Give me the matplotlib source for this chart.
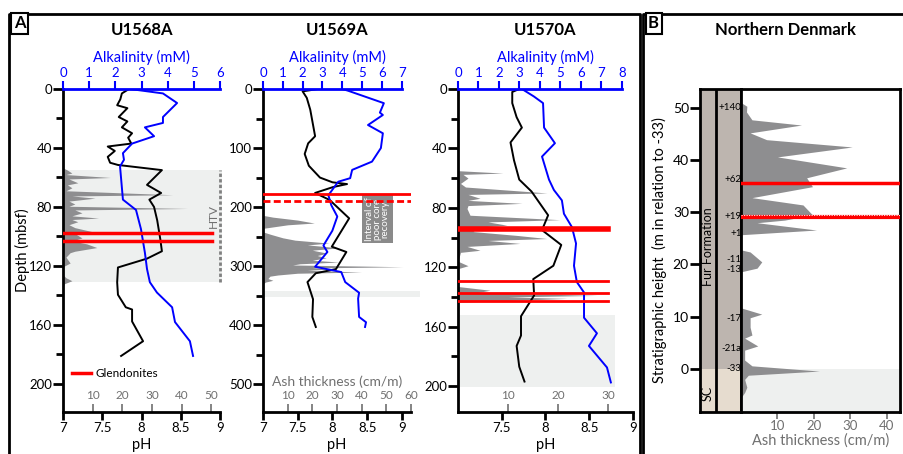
import numpy as np
import matplotlib.pyplot as plt
from matplotlib.lines import Line2D

plt.rcParams['font.family'] = ['Lato', 'DejaVu Sans']

W, H = 904, 454
ASH_GREY = '#8e8e90'
BAND = '#eef0ef'
TICK_GREY = '#707070'
FUR = '#bdb5af'
SC = '#e6dccf'

# ---- U1568A ----
u68_ph_depth = [0, 3, 7, 11, 13, 19, 22, 26, 30, 33, 37, 39, 42, 46, 50, 51.5, 55, 65, 70.5, 75, 80,
                89, 102, 110, 115, 121, 131, 139.5, 148, 149.5, 157.6, 171, 181]
u68_ph = [7.84, 7.75, 7.73, 7.69, 7.82, 7.71, 7.82, 7.75, 7.88, 7.83, 7.87, 7.57, 7.66, 7.57, 7.60, 7.70,
          8.26, 8.07, 8.25, 8.10, 8.16, 8.20, 8.24, 8.26, 8.07, 7.70, 7.69, 7.70, 7.80, 7.88, 7.88, 8.02, 7.74]
u68_alk_depth = [0, 3, 9.5, 19, 23, 26, 32, 37, 43.5, 48, 52.5, 75, 82, 95, 111, 122, 131, 138, 148,
                 158, 171, 181]
u68_alk = [2.56, 3.82, 4.36, 3.82, 3.82, 3.13, 3.48, 2.64, 2.29, 2.33, 2.18, 2.29, 2.79, 2.98, 3.13,
           3.21, 3.32, 3.59, 4.17, 4.28, 4.85, 4.97]
u68_ash_depth = [53.5, 55, 57, 58, 60, 61, 63.6, 65, 67, 69, 71.7, 72.5, 74, 76, 78, 79.5, 81, 82, 84,
                 86, 87.5, 88.5, 90, 92, 94, 96.7, 98, 101, 103, 105, 107.5, 110, 111, 114, 118, 120.5,
                 126, 128, 130, 132, 135]
u68_ash = [0, 1.5, 3, 1, 16, 2, 5, 1.5, 3, 1, 37, 3, 10.8, 2, 4, 2, 42, 4, 6.4, 3, 12, 3, 5, 2, 4, 9.8,
           4, 6.4, 3, 8, 11.4, 4, 2.4, 1, 2.4, 0, 0, 1, 3, 0.5, 0]
u68_glendonites = [97.5, 103]
u68_htv = (55, 131)

# ---- U1569A ----
u69_ph_depth = [0, 4, 15, 35, 80, 92, 110, 130, 150, 158, 161, 166, 176, 188, 219, 267, 276, 305, 312,
                327, 356, 386, 403]
u69_ph = [7.79, 7.57, 7.63, 7.68, 7.75, 7.65, 7.60, 7.66, 7.82, 8.00, 8.21, 8.01, 7.75, 7.96, 8.24,
          7.99, 8.20, 8.05, 7.76, 7.64, 7.72, 7.71, 7.76]
u69_alk_depth = [0, 3, 24, 40, 44, 61, 75, 100, 123, 137, 151, 157, 166, 180, 197, 216, 240, 265, 276,
                 301, 310, 327, 345, 355, 386, 395, 403]
u69_alk = [4.0, 4.3, 6.1, 5.9, 6.05, 5.3, 6.05, 5.95, 5.5, 4.5, 4.4, 3.8, 3.6, 3.3, 3.45, 3.75, 3.5,
           3.05, 3.25, 2.63, 3.95, 4.15, 4.85, 4.8, 4.85, 5.2, 5.15]
u69_ash_depth = [214, 217, 222, 227, 230, 236, 242, 246, 252, 256, 261, 264, 269, 273, 278, 282, 286,
                 290, 293, 296, 298, 301, 303, 305, 307, 310, 312, 315, 317, 321, 324, 327, 330]
u69_ash = [0, 4, 14, 20.8, 10, 0, 0, 3, 8, 13, 26.8, 18, 30.8, 20, 26, 22, 25.6, 20, 30.8, 15, 12, 56.8,
           20, 26.8, 18, 40, 14, 6, 2.8, 2, 4, 1, 0]
u69_glendonite = 178
u69_glendonite_dashed = 190
u69_poor_recovery = (180, 261)
u69_band = (342, 352)

# ---- U1570A ----
u70_ph_depth = [0, 2, 9.5, 19, 26, 36, 48, 61, 69, 85, 95, 105, 119, 128, 139, 153, 166, 173, 187, 197]
u70_ph = [7.70, 7.62, 7.62, 7.67, 7.73, 7.60, 7.64, 7.70, 7.84, 8.03, 7.96, 8.18, 8.09, 7.86, 7.87,
          7.72, 7.72, 7.67, 7.70, 7.76]
u70_alk_depth = [0, 5, 9.5, 26, 36.5, 45.5, 61, 68, 75, 84, 93, 104, 119, 130, 137, 154, 164.5, 173,
                 187.5, 197.6]
u70_alk = [3.12, 3.7, 4.15, 4.2, 4.73, 4.1, 4.44, 4.68, 5.07, 5.17, 5.56, 5.76, 5.66, 5.8, 6.15, 6.15,
           6.78, 6.39, 7.27, 7.46]
u70_ash_depth = [55, 56.6, 57.5, 60, 63.6, 66, 70, 71, 73.6, 75, 77, 78.5, 80.5, 85, 88, 89.5, 91.7, 93,
                 96, 98.6, 100.7, 102, 104, 106, 108.6, 110, 116, 119, 121, 133, 135.5, 137, 139, 140,
                 141, 143.6]
u70_ash = [0, 9, 1, 2, 0.5, 1.5, 17.8, 2, 4.4, 2, 12.8, 2, 1.8, 2.4, 20.4, 6, 9.8, 4, 3, 11.8, 17.8, 6,
           12.4, 1.8, 4.4, 0.5, 0, 2, 0, 0, 6.4, 4, 27.8, 10, 21.8, 0]
u70_glendonite_thick = 94.4
u70_glendonites = [129.5, 137.7, 142.5]
u70_band = (152.5, 201)

# ---- Northern Denmark ----
dk_height = [51, 50.3, 49.2, 47.7, 46.7, 45.2, 43.9, 42.5, 40.6, 38.5, 36.6, 34.9, 32.8, 31.4, 29.5,
             28.5, 28, 26.6, 25.7, 22.8, 22.4, 20.5, 19.3, 18.6, 11.7, 10.5, 9.8, 8.0, 6.5, 5.9, 4.4,
             3.6, 1.7, 0.6, -0.4, -1.2, -2, -3.5, -4.5, -5.5]
dk_ash = [0, 1.6, 1.5, 3, 16.6, 2.5, 7, 30.5, 10, 29, 18, 19.6, 3, 17, 19.6, 12, 4.4, 20.7, 0, 0, 2.5,
          5.7, 4.4, 0, 0, 5.7, 2.5, 2.5, 3, 1, 4.6, 1, 1, 3, 21.5, 2, 1, 1.6, 1, 0]
dk_ash_labels = ['+140', '+62', '+19', '+1', '-11', '-13', '-17', '-21a', '-33']
dk_ash_label_height = [50, 36.2, 29.1, 26, 21, 19, 9.6, 4, 0]
dk_glendonite = 35.6
dk_glendonite_dashed = 29.0


def px_axes(fig, x0, y0, x1, y1):
    return fig.add_axes([x0 / W, 1 - y1 / H, (x1 - x0) / W, (y1 - y0) / H])


def station(fig, box, name, dmax, dmajor, dminor, phmax, alkmax, alkn, ashmax, ashticks,
            ph_d, ph, alk_d, alk, ash_d, ash):
    ax = px_axes(fig, *box)
    ax.set_xlim(0, ashmax)
    ax.set_ylim(dmax, 0)
    ax.fill_betweenx(ash_d, 0, ash, color=ASH_GREY, lw=0, zorder=1)
    ax.set_xticks(ashticks)
    ax.tick_params(axis='x', direction='in', length=6, width=1.2, color=TICK_GREY,
                   labelcolor=TICK_GREY, labelsize=8.5, pad=-15.5)
    ax.set_yticks(dmajor)
    ax.set_yticks(dminor, minor=True)
    ax.tick_params(axis='y', which='major', length=7, width=2, labelsize=9.5, pad=1)
    ax.tick_params(axis='y', which='minor', length=5, width=2)
    for s in ['top', 'right', 'bottom']:
        ax.spines[s].set_visible(False)
    ax.spines['left'].set_linewidth(2)
    ax.patch.set_alpha(0)

    axp = ax.twiny()
    axp.set_xlim(7, phmax)
    axp.xaxis.set_ticks_position('bottom')
    axp.xaxis.set_label_position('bottom')
    axp.set_xticks([7, 7.5, 8, 8.5, 9])
    axp.set_xticklabels(['7', '7.5', '8', '8.5', '9'])
    axp.tick_params(axis='x', direction='out', length=6, width=2, labelsize=9.5, pad=1)
    axp.set_xlabel('pH', fontsize=10.5, labelpad=3)
    for s in ['top', 'right', 'left']:
        axp.spines[s].set_visible(False)
    axp.spines['bottom'].set_linewidth(2)
    axp.plot(ph, ph_d, color='black', lw=1.4, zorder=3)

    axa = ax.twiny()
    axa.set_xlim(0, alkmax)
    axa.set_xticks(range(alkn + 1))
    axa.tick_params(axis='x', direction='out', length=6, width=1.5, color='blue',
                    labelcolor='blue', labelsize=9.5, pad=1)
    axa.set_xlabel('Alkalinity (mM)', color='blue', fontsize=10.5, labelpad=4)
    for s in ['bottom', 'right', 'left']:
        axa.spines[s].set_visible(False)
    axa.spines['top'].set_color('blue')
    axa.spines['top'].set_linewidth(2)
    axa.spines['top'].set_bounds(0, alkn)
    axa.plot(alk, alk_d, color='blue', lw=1.4, zorder=3)

    cx = (box[0] + box[2]) / 2
    fig.text(cx / W, 1 - 30 / H, name, ha='center', va='center', fontsize=12, fontweight='bold')
    return ax, axp, axa


fig = plt.figure(figsize=(W / 100, H / 100), dpi=100)

# U1568A
ax1, ax1p, ax1a = station(fig, (63, 89, 220, 412), 'U1568A', 219, range(0, 201, 40), range(20, 200, 40),
                          9, 6, 6, 52.9, [10, 20, 30, 40, 50],
                          u68_ph_depth, u68_ph, u68_alk_depth, u68_alk, u68_ash_depth, u68_ash)
ax1.axhspan(*u68_htv, xmin=0, xmax=1.012, color=BAND, lw=0, zorder=0, clip_on=False)
ax1.set_ylabel('Depth (mbsf)', fontsize=10.5, labelpad=-1)
ax1a.axvline(6, ymin=1 - u68_htv[1] / 219, ymax=1 - u68_htv[0] / 219, color='#808080', lw=2,
             ls=(0, (1.2, 0.8)), clip_on=False)
ax1a.text(5.75, 86, 'HTV', rotation=90, ha='center', va='center', color='#707070', fontsize=8.5)
for i, d in enumerate(u68_glendonites):
    ax1a.axhline(d, xmin=0, xmax=0.949, color='red', lw=2.5, zorder=5,
                 label='Glendonites' if i == 0 else None)
ax1a.legend(loc='center left', bbox_to_anchor=(-0.01, 0.12), frameon=False, fontsize=8.5,
            handlelength=1.6, handletextpad=0.4)

# U1569A
ax2, ax2p, ax2a = station(fig, (263, 89, 411, 412), 'U1569A', 547, range(0, 501, 100), range(50, 500, 100),
                          9.13, 7.47, 7, 59.4, [10, 20, 30, 40, 50, 60],
                          u69_ph_depth, u69_ph, u69_alk_depth, u69_alk, u69_ash_depth, u69_ash)
ax2.axhspan(*u69_band, xmin=0, xmax=1.06, color=BAND, lw=0, zorder=0, clip_on=False)
ax2.text(0.5, 0.093, 'Ash thickness (cm/m)', transform=ax2.transAxes, ha='center', va='center',
         color=TICK_GREY, fontsize=10)
ax2p.axvspan(8.42, 8.87, ymin=1 - u69_poor_recovery[1] / 547, ymax=1 - u69_poor_recovery[0] / 547,
             color='#8a8a8a', lw=0, zorder=2)
ax2p.text(8.645, sum(u69_poor_recovery) / 2, 'Interval of\npoor core\nrecovery', rotation=90,
          ha='center', va='center', color='white', fontsize=7, linespacing=0.85, zorder=3)
ax2a.axhline(u69_glendonite, color='red', lw=2, zorder=5)
ax2a.axhline(u69_glendonite_dashed, color='red', lw=2, ls=(0, (2.5, 1.2)), zorder=5)

# U1570A
ax3, ax3p, ax3a = station(fig, (458, 89, 633, 412), 'U1570A', 217.5, range(0, 201, 40), range(20, 200, 40),
                          9, 8.54, 8, 35, [10, 20, 30],
                          u70_ph_depth, u70_ph, u70_alk_depth, u70_alk, u70_ash_depth, u70_ash)
ax3.axhspan(*u70_band, xmin=0, xmax=0.9, color=BAND, lw=0, zorder=0)
ax3p.set_xticks([7.5, 8, 8.5, 9])
ax3p.set_xticklabels(['7.5', '8', '8.5', '9'])
ax3a.axhline(u70_glendonite_thick, xmin=0, xmax=0.857, color='red', lw=4, zorder=5)
for d in u70_glendonites:
    ax3a.axhline(d, xmin=0, xmax=0.857, color='red', lw=2, zorder=5)

# Northern Denmark
axc = px_axes(fig, 700, 89, 741, 412)
axb = px_axes(fig, 741, 89, 900, 412)
for a in (axc, axb):
    a.set_ylim(-8.24, 53.6)
axc.set_xlim(0, 41)
axc.axhspan(0, 60, color=FUR, lw=0)
axc.axhspan(-10, 0, color=SC, lw=0)
axc.axvline(16.5, color='black', lw=2)
axc.set_xticks([])
axc.set_yticks(range(0, 51, 10))
axc.tick_params(axis='y', length=7, width=2, labelsize=10, pad=1)
axc.set_ylabel('Stratigraphic height  (m in relation to -33)', fontsize=10.5, labelpad=4)
for s in axc.spines.values():
    s.set_linewidth(2)
for lab, h in zip(dk_ash_labels, dk_ash_label_height):
    axc.text(41.5, h, lab, ha='right', va='center', fontsize=7)
axc.text(8, 23.4, 'Fur Formation', rotation=90, ha='center', va='center', fontsize=9)
axc.text(8, -4.6, 'SC', rotation=90, ha='center', va='center', fontsize=9)

axb.set_xlim(0, 43.6)
axb.axhspan(-10, 0, color=BAND, lw=0, zorder=0)
axb.fill_betweenx(dk_height, 0, dk_ash, color=ASH_GREY, lw=0, zorder=1)
axb.axhline(dk_glendonite, color='red', lw=2.5, zorder=5)
axb.axhline(dk_glendonite_dashed, color='red', lw=3, zorder=5)
axb.axhline(dk_glendonite_dashed + 0.42, color='white', lw=0.6, ls=(0, (1.5, 1.5)), zorder=6)
axb.set_yticks([])
axb.set_xticks([10, 20, 30, 40])
axb.tick_params(axis='x', length=5, width=1.2, color=TICK_GREY, labelcolor=TICK_GREY, labelsize=9.5, pad=1)
axb.set_xlabel('Ash thickness (cm/m)', color=TICK_GREY, fontsize=10.5, labelpad=1)
for s in axb.spines.values():
    s.set_linewidth(2)
fig.text(785 / W, 1 - 30 / H, 'Northern Denmark', ha='center', va='center', fontsize=12,
         fontweight='bold')

# panel frames
def fline(xs, ys, lw=2):
    fig.add_artist(Line2D([x / W for x in xs], [1 - y / H for y in ys], color='black', lw=lw))

fline([9, 9, 640, 640], [454, 14, 14, 454])
fline([643, 643, 904], [454, 14, 14])
fig.text(19.5 / W, 1 - 23 / H, 'A', ha='center', va='center', fontsize=12, fontweight='bold',
         bbox=dict(boxstyle='square,pad=0.15', fc='white', ec='black', lw=1.5))
fig.text(653.5 / W, 1 - 23 / H, 'B', ha='center', va='center', fontsize=12, fontweight='bold',
         bbox=dict(boxstyle='square,pad=0.15', fc='white', ec='black', lw=1.5))

fig.savefig('out.png', dpi=100)
